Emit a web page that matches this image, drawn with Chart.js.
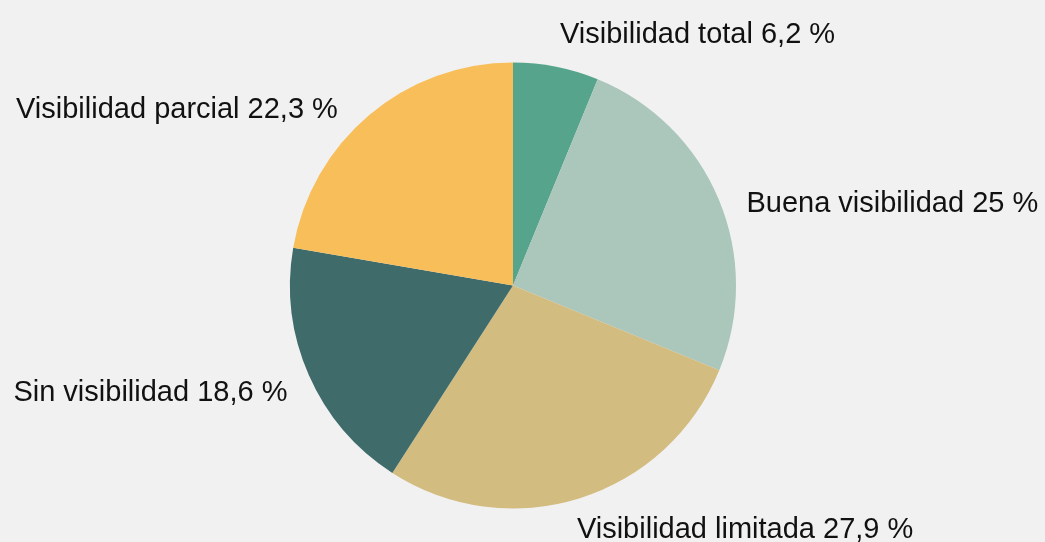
<!DOCTYPE html>
<html>
<head>
<meta charset="utf-8">
<script src="https://cdn.jsdelivr.net/npm/chart.js@4/dist/chart.umd.min.js"></script>
<style>
  html, body { margin: 0; padding: 0; background: #f1f1f1; }
  #wrap { width: 1045px; height: 542px; position: relative; }
</style>
</head>
<body>
<div id="wrap"><canvas id="c" width="1045" height="542"></canvas></div>
<script>
const categories = ["Visibilidad total", "Buena visibilidad", "Visibilidad limitada", "Sin visibilidad", "Visibilidad parcial"];
const values = [6.2, 25, 27.9, 18.6, 22.3];
const valueLabels = ["6,2 %", "25 %", "27,9 %", "18,6 %", "22,3 %"];
const colors = ["#55a48b", "#abc6bb", "#d3bc80", "#3f6c6b", "#f8be5a"];
// label nudges relative to the slice's mid-angle anchor
const labelNudges = [[-2, -2], [0, 16], [-12, 3], [6, 6], [-12, 18]];

const outsideLabels = {
  id: 'outsideLabels',
  afterDatasetsDraw(chart) {
    const ctx = chart.ctx;
    const meta = chart.getDatasetMeta(0);
    ctx.save();
    ctx.font = '29px "Liberation Sans", Arial, sans-serif';
    ctx.fillStyle = '#111111';
    ctx.textBaseline = 'middle';
    meta.data.forEach((arc, i) => {
      const mid = (arc.startAngle + arc.endAngle) / 2;
      const r = arc.outerRadius + 30;
      let x = arc.x + Math.cos(mid) * r;
      let y = arc.y + Math.sin(mid) * r;
      x += labelNudges[i][0];
      y += labelNudges[i][1];
      ctx.textAlign = x >= arc.x ? 'left' : 'right';
      ctx.fillText(categories[i] + ' ' + valueLabels[i], x, y);
    });
    ctx.restore();
  }
};

new Chart(document.getElementById('c'), {
  type: 'pie',
  data: {
    labels: categories,
    datasets: [{
      data: values,
      backgroundColor: colors,
      borderWidth: 0
    }]
  },
  options: {
    responsive: false,
    animation: false,
    layout: { padding: { top: 62, bottom: 33, left: 290, right: 309 } },
    plugins: {
      legend: { display: false },
      tooltip: { enabled: false }
    }
  },
  plugins: [outsideLabels]
});
</script>
</body>
</html>
